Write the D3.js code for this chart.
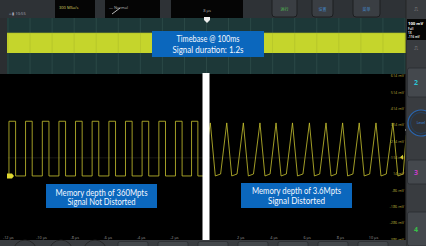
<!DOCTYPE html>
<html>
<head>
<meta charset="utf-8">
<script src="https://cdn.jsdelivr.net/npm/d3@7"></script>
<style>
  body { margin: 0; background: #2b2e31; }
  svg { display: block; font-family: "Open Sans", sans-serif; }
</style>
</head>
<body>
<script>
// time axis (µs) and voltage axis (mV)
const timeTicks = [-12, -10, -8, -6, -4, -2, 2, 4, 6, 8, 10];
const voltTicks = [614, 514, 414, 314, 214, 114, 14, -86, -186, -286, -386];

// left trace: square wave edges (µs), levels (mV)
const squareRise = [-11.93, -10.93, -9.92, -8.92, -7.92, -6.92, -5.91, -4.91, -3.91, -2.9, -1.9, -0.93];
const squareFall = [-11.53, -10.53, -9.52, -8.52, -7.52, -6.52, -5.51, -4.51, -3.51, -2.5, -1.5, -0.55];
const squareHigh = 335, squareLow = 0;

// right trace: distorted wave, peak / trough times (µs), levels (mV)
const triPeak     = [0.2, 1.19, 2.19, 3.19, 4.16, 5.15, 6.17, 7.17, 8.17, 9.17, 10.18, 11.2];
const triLowStart = [0.5, 1.49, 2.49, 3.49, 4.46, 5.45, 6.47, 7.47, 8.47, 9.47, 10.48, 11.5];
const triLowEnd   = [0.82, 1.81, 2.8, 3.8, 4.78, 5.78, 6.79, 7.79, 8.79, 9.8, 10.8, 11.82];
const triHigh = 325, triLowA = 0, triLowB = 12;

const overviewGrid = d3.range(0, 19);

const W = 426, H = 246;
const plot = {left: 7.8, right: 405.5, top: 74, bottom: 240};

const svg = d3.select("body").append("svg")
    .attr("width", W).attr("height", H);

const x = d3.scaleLinear().domain([-12, 12]).range([plot.left, 406.2]);
const y = d3.scaleLinear().domain([614, -386]).range([75.7, 239]);

// ---- top bar
svg.append("rect").attr("x", 0).attr("y", 0).attr("width", W).attr("height", 18).attr("fill", "#2e3236");
svg.append("text").attr("x", 9).attr("y", 15).attr("font-size", 4).attr("fill", "#aab").text("⌂ ▮ 10:55");
[[55, 95, "300 MSa/s"], [105, 160, "    — Normal"], [171, 243, "8 µs"]].forEach(([a, b, t]) => {
  svg.append("rect").attr("x", a).attr("y", 0).attr("width", b - a).attr("height", 18).attr("fill", "#050505");
  svg.append("text").attr("x", a === 171 ? 207 : a + 4).attr("y", a === 171 ? 12 : 9)
    .attr("text-anchor", a === 171 ? "middle" : "start")
    .attr("font-size", 4).attr("fill", a === 55 ? "#d8d060" : "#bbb").text(t);
});
svg.append("line").attr("x1", 112).attr("y1", 14).attr("x2", 120).attr("y2", 8).attr("stroke", "#bbb").attr("stroke-width", 1);
[[272, 297, "#5c5", "运行"], [312, 333, "#48c", "设置"], [353, 380, "#48c", "菜单"]].forEach(([a, b, c, t]) => {
  svg.append("rect").attr("x", a).attr("y", -4).attr("width", b - a).attr("height", 21).attr("rx", 3)
    .attr("fill", "#3a3e43").attr("stroke", "#1c1e20");
  svg.append("text").attr("x", (a + b) / 2).attr("y", 11).attr("text-anchor", "middle")
    .attr("font-size", 4).attr("fill", c).attr("font-family", "Noto Sans CJK SC").text(t);
});

// ---- overview strip
svg.append("rect").attr("x", 7).attr("y", 18).attr("width", 399).attr("height", plot.top - 18).attr("fill", "#1d3838");
const ox = d3.scaleLinear().domain([0, 18]).range([8, 405]);
svg.selectAll(".og").data(overviewGrid).enter().append("line")
    .attr("x1", d => ox(d)).attr("x2", d => ox(d)).attr("y1", 18).attr("y2", plot.top)
    .attr("stroke", "#2e4c4a").attr("stroke-width", 0.8);
svg.append("rect").attr("x", 7).attr("y", 33).attr("width", 399).attr("height", 20).attr("fill", "#c5d52c");
svg.selectAll(".og2").data(overviewGrid).enter().append("line")
    .attr("x1", d => ox(d)).attr("x2", d => ox(d)).attr("y1", 33).attr("y2", 53)
    .attr("stroke", "#9aa828").attr("stroke-width", 0.6).attr("opacity", 0.5);
svg.append("line").attr("x1", 7).attr("x2", 406).attr("y1", 33).attr("y2", 33).attr("stroke", "#a8b82a").attr("stroke-width", 0.6);
svg.append("path").attr("d", "M204,17 h6 v3 l-3,3 l-3,-3 z").attr("fill", "#eee");

// ---- main plot
svg.append("rect").attr("x", 0).attr("y", plot.top).attr("width", plot.right).attr("height", plot.bottom - plot.top).attr("fill", "#000");
svg.append("line").attr("x1", plot.left).attr("x2", plot.right).attr("y1", y(114) + 0.5).attr("y2", y(114) + 0.5)
    .attr("stroke", "#2a2a22").attr("stroke-width", 0.6);

svg.append("clipPath").attr("id", "clip").append("rect")
    .attr("x", plot.left).attr("y", plot.top).attr("width", plot.right - plot.left).attr("height", plot.bottom - plot.top);

const line = d3.line().x(d => x(d[0])).y(d => y(d[1]));

const sqPts = [[-12, squareLow]];
squareRise.forEach((r, i) => {
  sqPts.push([r, squareLow], [r, squareHigh], [squareFall[i], squareHigh], [squareFall[i], squareLow]);
});
sqPts.push([0, squareLow]);

const triPts = [[0.02, 200]];
triPeak.forEach((p, i) => {
  triPts.push([p, triHigh], [triLowStart[i], triLowA], [triLowEnd[i], triLowB]);
});
triPts.push([12, 250]);

const traces = svg.append("g").attr("clip-path", "url(#clip)");
traces.append("path").datum(sqPts).attr("d", line)
    .attr("fill", "none").attr("stroke", "#c9c430").attr("stroke-width", 0.8);
traces.append("path").datum(triPts).attr("d", line)
    .attr("fill", "none").attr("stroke", "#c9c430").attr("stroke-width", 0.8);

// separator
svg.append("rect").attr("x", 202.5).attr("y", 73).attr("width", 7).attr("height", 167).attr("fill", "#fff");

// channel 1 ground marker
svg.append("path").attr("d", `M7,${y(0) - 2.5} h5 l2,2.5 l-2,2.5 h-5 z`).attr("fill", "#e0d830");
// trigger marker
svg.append("path").attr("d", `M403,${y(114) - 2.5} l-3,2.5 l3,2.5 z`).attr("fill", "#e0d830");
svg.append("circle").attr("cx", 406).attr("cy", 130).attr("r", 0.9).attr("fill", "#ddd");

// axes
const xAxis = svg.append("g").attr("transform", `translate(0,${235})`)
    .call(d3.axisBottom(x).tickValues(timeTicks).tickSize(0).tickPadding(1).tickFormat(d => d + " µs"));
xAxis.select(".domain").remove();
xAxis.selectAll("text").attr("font-size", 3.8).attr("fill", "#999").attr("font-family", "Open Sans");

const yAxis = svg.append("g").attr("transform", `translate(${405},0)`)
    .call(d3.axisLeft(y).tickValues(voltTicks).tickSize(0).tickPadding(1).tickFormat(d => d + " mV"));
yAxis.select(".domain").remove();
yAxis.selectAll("text").attr("font-size", 3.8).attr("fill", "#b8a838").attr("font-family", "Open Sans");

// ---- annotation boxes
const boxes = [
  {x0: 152, x1: 264, y0: 31, y1: 57, lines: ["Timebase @ 100ms", "Signal duration: 1.2s"], ty: [42, 53], w: [63, 71]},
  {x0: 46, x1: 157, y0: 184, y1: 208, lines: ["Memory depth of 360Mpts", "Signal Not Distorted"], ty: [195.5, 205], w: [92, 68]},
  {x0: 241, x1: 352, y0: 183, y1: 208, lines: ["Memory depth of 3.6Mpts", "Signal Distorted"], ty: [194, 204], w: [89, 57]}
];
boxes.forEach(b => {
  svg.append("rect").attr("x", b.x0).attr("y", b.y0).attr("width", b.x1 - b.x0).attr("height", b.y1 - b.y0)
      .attr("fill", "#0b67bd");
  b.lines.forEach((t, i) => {
    svg.append("text").attr("x", (b.x0 + b.x1) / 2).attr("y", b.ty[i]).attr("text-anchor", "middle")
        .attr("font-family", "Lato").attr("font-size", 8.5)
        .attr("textLength", b.w[i]).attr("lengthAdjust", "spacingAndGlyphs")
        .attr("fill", "#f4f8ff").text(t);
  });
});

// ---- right panel
svg.append("rect").attr("x", 406).attr("y", 0).attr("width", 20).attr("height", H).attr("fill", "#393c40");
svg.append("line").attr("x1", 406).attr("x2", 406).attr("y1", 0).attr("y2", H).attr("stroke", "#222").attr("stroke-width", 0.8);
svg.append("text").attr("x", 414).attr("y", 11).attr("font-size", 6).attr("fill", "#aaa").text("⎍");
svg.append("rect").attr("x", 407).attr("y", 19).attr("width", 19).attr("height", 21).attr("fill", "#050505");
[["100 mV", 24.5, 4.2, "#fff"], ["Full", 29.5, 3, "#ddd"], ["1X", 33.5, 3, "#ddd"], ["-116 mV", 37.5, 3, "#ddd"]].forEach(([t, yy, fs, c]) => {
  svg.append("text").attr("x", 408).attr("y", yy).attr("font-size", fs).attr("fill", c).attr("font-weight", "bold").text(t);
});
svg.append("text").attr("x", 414).attr("y", 50).attr("font-size", 6).attr("fill", "#aaa").text("⎍");
[[68, 97, "2", "#2cc4d4"], [160, 184, "3", "#c63cc8"], [212, 246, "4", "#38c048"]].forEach(([a, b, t, c]) => {
  svg.append("rect").attr("x", 407.5).attr("y", a).attr("width", 20).attr("height", b - a).attr("rx", 2)
      .attr("fill", "#44484d").attr("stroke", "#2a2c30").attr("stroke-width", 0.8);
  svg.append("text").attr("x", 416).attr("y", (a + b) / 2 + 2.5).attr("text-anchor", "middle")
      .attr("font-size", 7).attr("font-weight", "bold").attr("fill", c).text(t);
});
svg.append("circle").attr("cx", 421).attr("cy", 123).attr("r", 13).attr("fill", "#2f3236")
    .attr("stroke", "#2a66b0").attr("stroke-width", 1.2);
svg.append("circle").attr("cx", 421).attr("cy", 123).attr("r", 10.5).attr("fill", "none")
    .attr("stroke", "#1d4a80").attr("stroke-width", 0.6);
svg.append("text").attr("x", 421).attr("y", 124).attr("text-anchor", "middle").attr("font-size", 3.5).attr("fill", "#3a8ee0").text("Level");

// ---- bottom bar
svg.append("rect").attr("x", 0).attr("y", 240).attr("width", 406).attr("height", 6).attr("fill", "#3a3d41");
[[10, 30], [46, 66], [80, 100]].forEach(([a, b]) => {
  svg.append("ellipse").attr("cx", (a + b) / 2 + 5).attr("cy", 252).attr("rx", 12).attr("ry", 12)
      .attr("fill", "none").attr("stroke", "#222").attr("stroke-width", 0.8);
});
[118, 158, 198, 238, 278, 318, 358].forEach(a => {
  svg.append("rect").attr("x", a).attr("y", 241.5).attr("width", 30).attr("height", 8).attr("rx", 2)
      .attr("fill", "#44484c").attr("stroke", "#26282b").attr("stroke-width", 0.6);
});
</script>
</body>
</html>
